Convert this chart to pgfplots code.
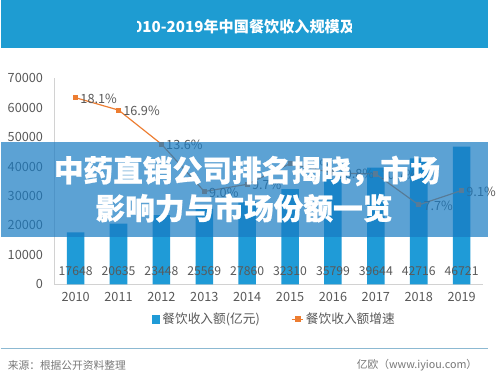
\documentclass[border=0pt]{standalone}
\usepackage{fontspec}
\setmainfont{Noto Sans CJK SC}
\newfontfamily\heavyfont[FakeBold=0.8]{Noto Sans CJK SC}
\usepackage{pgfplots}
\pgfplotsset{compat=1.18}
\definecolor{barblue}{RGB}{31,155,215}
\definecolor{lineorange}{RGB}{237,125,49}
\definecolor{txtgray}{RGB}{89,89,89}
\definecolor{axgray}{RGB}{210,210,210}
\definecolor{headblue}{RGB}{30,156,210}
\definecolor{bannerblue}{RGB}{24,123,195}
\definecolor{seprule}{RGB}{140,185,210}
\definecolor{srcgray}{RGB}{120,120,120}
\begin{document}
\begin{tikzpicture}
\begin{scope}[xshift=-54.75pt, yshift=-97pt, x=1pt, y=1pt]
\useasboundingbox (0,0) rectangle (499,388);
\fill[white] (0,0) rectangle (499,388);
\fill[headblue] (0,339) rectangle (499,388);
\begin{scope}
\clip (139.5,339) rectangle (359,388);
\node[anchor=west, text=white, font=\fontsize{15.5}{16}\selectfont\bfseries, inner sep=0] at (126,361) {2010-2019年中国餐饮收入规模及增速};
\end{scope}
\end{scope}

\begin{axis}[
  scale only axis,
  width=439pt, height=211pt,
  xmin=-0.5, xmax=9.5, ymin=0, ymax=70000,
  xtick={0,1,2,3,4,5,6,7,8,9},
  xticklabels={2010,2011,2012,2013,2014,2015,2016,2017,2018,2019},
  ytick={0,10000,20000,30000,40000,50000,60000,70000},
  axis x line=bottom, axis y line=left,
  axis line style={-, draw=axgray, line width=0.8pt},
  major tick length=0pt,
  scaled y ticks=false,
  /pgf/number format/assume math mode=true,
  /pgf/number format/1000 sep={},
  tick label style={font=\fontsize{13}{13}\selectfont, text=txtgray},
  x tick label style={yshift=-5pt},
  y tick label style={xshift=-8pt},
  legend style={at={(0.513,-0.17)}, anchor=center, draw=none, fill=none,
    legend columns=2, font=\fontsize{13}{13}\selectfont, text=txtgray,
    /tikz/every even column/.append style={column sep=30pt}},
]
\addplot[ybar, bar width=18pt, fill=barblue, draw=none,
  legend image code/.code={\fill[barblue] (0pt,-4.5pt) rectangle (9pt,4.5pt);}]
  coordinates {(0,17648) (1,20635) (2,23448) (3,25569) (4,27860) (5,32310) (6,35799) (7,39644) (8,42716) (9,46721)};
\addlegendentry{餐饮收入额(亿元)}
\addlegendimage{lineorange, line width=1.2pt,
  legend image code/.code={\draw[lineorange, line width=1.2pt] (0pt,0pt) -- (12pt,0pt); \fill[lineorange] (3.5pt,-2.5pt) rectangle (8.5pt,2.5pt);}}
\addlegendentry{餐饮收入额增速}
\addplot[draw=none, mark=none, forget plot, nodes near coords, point meta=explicit symbolic,
  every node near coord/.append style={anchor=center, font=\fontsize{12.5}{12.5}\selectfont, text=txtgray}]
  coordinates {(0,4300) [17648] (1,4300) [20635] (2,4300) [23448] (3,4300) [25569] (4,4300) [27860] (5,4300) [32310] (6,4300) [35799] (7,4300) [39644] (8,4300) [42716] (9,4300) [46721]};
\end{axis}

\begin{axis}[
  scale only axis,
  width=439pt, height=211pt,
  xmin=-0.5, xmax=9.5, ymin=0, ymax=20, hide axis,
  /pgf/number format/assume math mode=true,
]
\addplot[lineorange, line width=1.2pt, mark=square*, mark size=2pt,
  nodes near coords={\pgfmathprintnumber[fixed, precision=1, fixed zerofill]{\pgfplotspointmeta}\%},
  point meta=y,
  every node near coord/.append style={anchor=west, xshift=1pt, yshift=-1pt, font=\fontsize{13}{13}\selectfont, text=txtgray}]
  coordinates {(0,18.1) (1,16.9) (2,13.6) (3,9.0) (4,9.7) (5,11.7) (6,10.8) (7,10.7) (8,7.7) (9,9.1)};
\end{axis}

\begin{scope}[xshift=-54.75pt, yshift=-97pt, x=1pt, y=1pt]
\fill[bannerblue, opacity=0.7] (0,145) rectangle (499,243);
\node[text=white, font=\fontsize{30.4}{31}\selectfont\heavyfont\bfseries, inner sep=0] at (252,213) {中药直销公司排名揭晓，市场};
\node[text=white, font=\fontsize{30.4}{31}\selectfont\heavyfont\bfseries, inner sep=0] at (249,175) {影响力与市场份额一览};
\draw[seprule, line width=1.5pt] (0,31) -- (499,31);
\node[anchor=west, text=srcgray, font=\fontsize{11}{11}\selectfont, inner sep=0] at (7,14) {来源：根据公开资料整理};
\node[anchor=east, text=srcgray, font=\fontsize{11}{11}\selectfont, inner sep=0] at (488,14) {亿欧（www.iyiou.com）};
\end{scope}
\end{tikzpicture}
\end{document}
